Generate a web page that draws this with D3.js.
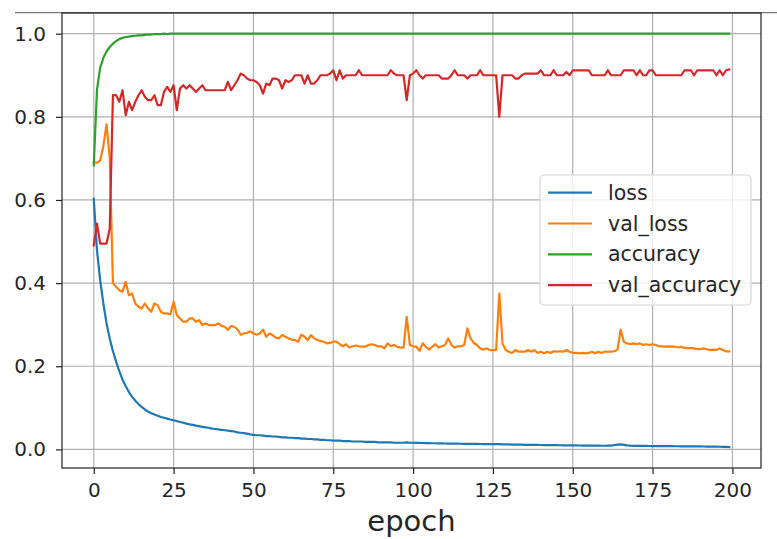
<!DOCTYPE html>
<meta charset='utf-8'>
<script src='https://d3js.org/d3.v7.min.js'></script>
<style>
  body { margin: 0; background: #fff; }
  text { font-family: 'DejaVu Sans', sans-serif; fill: #262626; }
</style>
<body>
<script>
var width = 777,
    height = 539;

// training history, one value per epoch (0..199)
var loss = [
  0.603,0.479,0.407,0.351,0.303,0.267,0.236,0.211,0.188,0.168,
  0.152,0.138,0.127,0.117,0.109,0.102,0.096,0.091,0.087,0.084,
  0.081,0.078,0.076,0.074,0.072,0.070,0.068,0.066,0.064,0.062,
  0.060,0.059,0.057,0.056,0.054,0.053,0.052,0.050,0.049,0.048,
  0.047,0.046,0.045,0.044,0.043,0.041,0.040,0.039,0.038,0.036,
  0.035,0.034,0.034,0.033,0.032,0.032,0.031,0.031,0.030,0.029,
  0.029,0.028,0.028,0.027,0.027,0.026,0.026,0.025,0.025,0.024,
  0.024,0.023,0.023,0.022,0.022,0.021,0.021,0.021,0.020,0.020,
  0.020,0.019,0.019,0.019,0.019,0.018,0.018,0.018,0.018,0.017,
  0.017,0.017,0.017,0.017,0.016,0.016,0.016,0.016,0.017,0.016,
  0.016,0.0158,0.0155,0.0153,0.0152,0.015,0.0148,0.0147,0.0145,0.0143,
  0.0141,0.014,0.0139,0.0138,0.0137,0.0135,0.0134,0.0133,0.0132,0.0131,
  0.013,0.0129,0.0128,0.0128,0.0127,0.0127,0.0126,0.0125,0.0122,0.012,
  0.0118,0.0116,0.0114,0.0113,0.0112,0.011,0.0109,0.0108,0.0107,0.0106,
  0.0105,0.0104,0.0103,0.0102,0.0101,0.01,0.0099,0.0098,0.0097,0.0096,
  0.0095,0.0094,0.0093,0.0092,0.0091,0.0091,0.009,0.0089,0.0088,0.0087,
  0.0087,0.0088,0.009,0.0105,0.0115,0.012,0.011,0.0095,0.0088,0.0086,
  0.0085,0.0084,0.0083,0.0082,0.0081,0.008,0.0079,0.0079,0.0078,0.0077,
  0.0077,0.0076,0.0075,0.0075,0.0074,0.0073,0.0073,0.0072,0.0071,0.0071,
  0.007,0.0069,0.0068,0.0067,0.0066,0.0065,0.0063,0.0061,0.0058,0.0055
];

var val_loss = [
  0.690,0.690,0.695,0.730,0.782,0.700,0.400,0.391,0.383,0.379,
  0.403,0.371,0.375,0.351,0.343,0.339,0.351,0.339,0.331,0.351,
  0.347,0.331,0.327,0.327,0.325,0.355,0.323,0.315,0.307,0.307,
  0.315,0.315,0.307,0.311,0.299,0.303,0.299,0.299,0.299,0.303,
  0.297,0.295,0.287,0.297,0.295,0.289,0.276,0.279,0.280,0.284,
  0.279,0.276,0.279,0.288,0.271,0.279,0.275,0.269,0.267,0.275,
  0.271,0.267,0.264,0.263,0.259,0.276,0.271,0.263,0.275,0.267,
  0.263,0.261,0.259,0.255,0.256,0.259,0.259,0.253,0.248,0.253,
  0.245,0.248,0.250,0.248,0.247,0.247,0.251,0.253,0.251,0.248,
  0.248,0.243,0.255,0.248,0.251,0.247,0.245,0.245,0.319,0.251,
  0.248,0.247,0.237,0.255,0.247,0.240,0.247,0.253,0.245,0.248,
  0.251,0.267,0.251,0.245,0.248,0.248,0.251,0.291,0.267,0.256,
  0.251,0.243,0.240,0.243,0.239,0.239,0.239,0.375,0.255,0.239,
  0.235,0.232,0.239,0.235,0.235,0.235,0.239,0.235,0.239,0.232,
  0.235,0.231,0.235,0.232,0.236,0.235,0.236,0.235,0.239,0.235,
  0.232,0.232,0.231,0.232,0.231,0.232,0.235,0.231,0.235,0.232,
  0.235,0.235,0.235,0.236,0.240,0.288,0.259,0.255,0.253,0.255,
  0.253,0.255,0.251,0.253,0.251,0.253,0.251,0.248,0.248,0.247,
  0.248,0.247,0.247,0.245,0.247,0.244,0.243,0.244,0.243,0.241,
  0.241,0.243,0.241,0.239,0.240,0.239,0.243,0.239,0.236,0.236
];

var accuracy = [
  0.683,0.865,0.918,0.942,0.957,0.968,0.976,0.982,0.987,0.990,
  0.992,0.993,0.994,0.995,0.996,0.996,0.997,0.998,0.998,0.999,
  0.999,0.999,1,0.999,1,1,1,1,1,1,
  1,1,1,1,1,1,1,1,1,1,
  1,1,1,1,1,1,1,1,1,1,
  1,1,1,1,1,1,1,1,1,1,
  1,1,1,1,1,1,1,1,1,1,
  1,1,1,1,1,1,1,1,1,1,
  1,1,1,1,1,1,1,1,1,1,
  1,1,1,1,1,1,1,1,1,1,
  1,1,1,1,1,1,1,1,1,1,
  1,1,1,1,1,1,1,1,1,1,
  1,1,1,1,1,1,1,1,1,1,
  1,1,1,1,1,1,1,1,1,1,
  1,1,1,1,1,1,1,1,1,1,
  1,1,1,1,1,1,1,1,1,1,
  1,1,1,1,1,1,1,1,1,1,
  1,1,1,1,1,1,1,1,1,1,
  1,1,1,1,1,1,1,1,1,1,
  1,1,1,1,1,1,1,1,1,1
];

var val_accuracy = [
  0.491,0.543,0.495,0.495,0.495,0.531,0.852,0.852,0.836,0.864,
  0.804,0.836,0.816,0.836,0.852,0.864,0.848,0.840,0.840,0.852,
  0.828,0.828,0.860,0.872,0.860,0.876,0.816,0.868,0.876,0.868,
  0.876,0.868,0.860,0.868,0.876,0.864,0.864,0.864,0.864,0.864,
  0.864,0.864,0.884,0.864,0.876,0.888,0.904,0.900,0.892,0.888,
  0.888,0.884,0.876,0.856,0.880,0.876,0.892,0.892,0.888,0.868,
  0.888,0.884,0.888,0.900,0.900,0.900,0.880,0.900,0.880,0.880,
  0.888,0.900,0.900,0.900,0.904,0.912,0.888,0.912,0.892,0.900,
  0.900,0.900,0.900,0.912,0.900,0.900,0.900,0.900,0.900,0.900,
  0.900,0.900,0.900,0.912,0.904,0.900,0.900,0.900,0.840,0.900,
  0.904,0.912,0.900,0.892,0.900,0.900,0.900,0.900,0.900,0.892,
  0.892,0.892,0.900,0.912,0.900,0.900,0.900,0.892,0.900,0.900,
  0.900,0.912,0.900,0.900,0.900,0.900,0.900,0.800,0.900,0.900,
  0.900,0.900,0.892,0.892,0.900,0.904,0.904,0.904,0.904,0.904,
  0.912,0.900,0.900,0.900,0.912,0.900,0.900,0.900,0.908,0.900,
  0.912,0.912,0.912,0.912,0.912,0.912,0.900,0.900,0.900,0.900,
  0.900,0.912,0.900,0.900,0.900,0.900,0.912,0.912,0.912,0.912,
  0.900,0.912,0.900,0.900,0.912,0.912,0.900,0.900,0.900,0.900,
  0.900,0.900,0.900,0.900,0.900,0.912,0.912,0.912,0.900,0.912,
  0.912,0.912,0.912,0.912,0.912,0.900,0.912,0.900,0.912,0.914
];

var seriesNames = ['loss', 'val_loss', 'accuracy', 'val_accuracy'];
var seriesColors = ['#1f77b4', '#ff7f0e', '#2ca02c', '#d62728'];
var xTicks = [0, 25, 50, 75, 100, 125, 150, 175, 200];
var yTicks = [0.0, 0.2, 0.4, 0.6, 0.8, 1.0];

var series = [loss, val_loss, accuracy, val_accuracy].map(function(vals, i) {
  return {name: seriesNames[i], color: seriesColors[i], values: vals};
});

var margin = {left: 62, right: 16, top: 13, bottom: 71};
var x = d3.scaleLinear().domain([-9.95, 208.95]).range([margin.left, width - margin.right]);
var y = d3.scaleLinear().domain([-0.0448, 1.0498]).range([height - margin.bottom, margin.top]);

var svg = d3.select('body').append('svg').attr('width', width).attr('height', height);

// stray rule from the cropped screenshot above the plot
svg.append('line')
    .attr('x1', 15).attr('x2', width).attr('y1', 12.7).attr('y2', 12.7)
    .attr('stroke', '#555').attr('stroke-width', 1);

// grid
var grid = svg.append('g').attr('stroke', '#b0b0b0').attr('stroke-width', 1.2);
grid.selectAll('.gx').data(xTicks).enter().append('line')
    .attr('x1', function(d) { return x(d); }).attr('x2', function(d) { return x(d); })
    .attr('y1', margin.top).attr('y2', height - margin.bottom);
grid.selectAll('.gy').data(yTicks).enter().append('line')
    .attr('y1', function(d) { return y(d); }).attr('y2', function(d) { return y(d); })
    .attr('x1', margin.left).attr('x2', width - margin.right);

// axes
var xAxis = svg.append('g')
    .attr('transform', 'translate(0,' + (height - margin.bottom) + ')')
    .call(d3.axisBottom(x).tickValues(xTicks).tickSize(6).tickPadding(9).tickFormat(d3.format('d')));
var yAxis = svg.append('g')
    .attr('transform', 'translate(' + margin.left + ',0)')
    .call(d3.axisLeft(y).tickValues(yTicks).tickSize(6).tickPadding(10).tickFormat(d3.format('.1f')));
[xAxis, yAxis].forEach(function(ax) {
  ax.select('.domain').remove();
  ax.selectAll('.tick line').attr('stroke', '#222').attr('stroke-width', 1.2);
  ax.selectAll('.tick text').attr('font-size', 20).attr('fill', '#262626')
      .attr('font-family', "'DejaVu Sans', sans-serif");
});

// lines
var line = d3.line()
    .x(function(d, i) { return x(i); })
    .y(function(d) { return y(d); });

svg.append('g').selectAll('path').data(series).enter().append('path')
    .attr('d', function(d) { return line(d.values); })
    .attr('fill', 'none')
    .attr('stroke', function(d) { return d.color; })
    .attr('stroke-width', 2.2)
    .attr('stroke-linejoin', 'round')
    .attr('stroke-linecap', 'square');

// frame
svg.append('rect')
    .attr('x', margin.left).attr('y', margin.top)
    .attr('width', width - margin.right - margin.left)
    .attr('height', height - margin.bottom - margin.top)
    .attr('fill', 'none').attr('stroke', '#222').attr('stroke-width', 1.2);

// x label (kept just inside the bottom edge)
svg.append('text')
    .attr('x', (margin.left + width - margin.right) / 2)
    .attr('y', 531)
    .attr('text-anchor', 'middle')
    .attr('font-size', 29)
    .text('epoch');

// legend
var legend = svg.append('g').attr('transform', 'translate(540,175)');
legend.append('rect')
    .attr('width', 211).attr('height', 130).attr('rx', 4).attr('ry', 4)
    .attr('fill', 'rgba(255,255,255,0.8)').attr('stroke', '#d6d6d6').attr('stroke-width', 1.2);
var item = legend.selectAll('.item').data(series).enter().append('g')
    .attr('transform', function(d, i) { return 'translate(0,' + (17.7 + i * 30.8) + ')'; });
item.append('line')
    .attr('x1', 8).attr('x2', 52)
    .attr('stroke', function(d) { return d.color; }).attr('stroke-width', 2.2);
item.append('text')
    .attr('x', 68).attr('y', 7)
    .attr('font-size', 20.5)
    .text(function(d) { return d.name; });
</script>
